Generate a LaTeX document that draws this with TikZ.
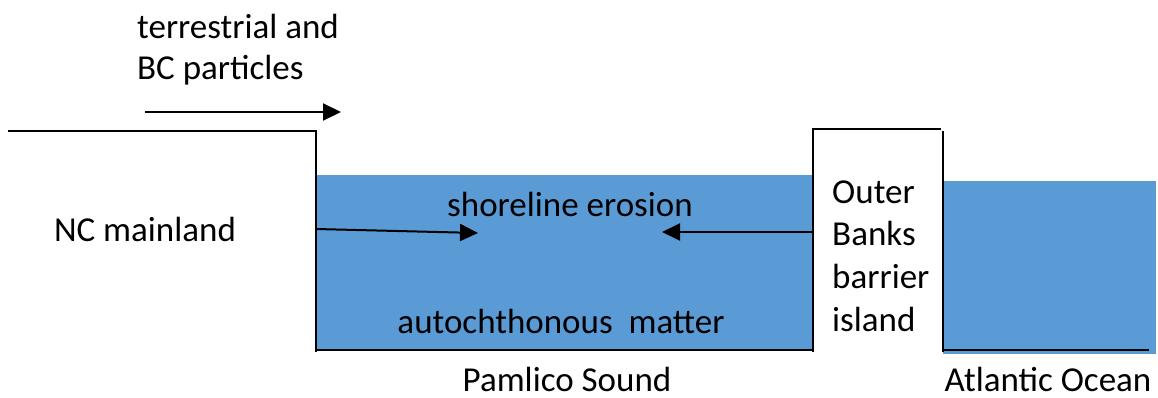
\documentclass[tikz,border=0pt]{standalone}
\usepackage{fontspec}
\setmainfont{Carlito}
\usetikzlibrary{arrows.meta}
\definecolor{water}{HTML}{5B9BD5}
\begin{document}
\begin{tikzpicture}[x=1pt,y=-1pt,
  outline/.style={draw=black,line width=2pt},
  arr/.style={draw=black,line width=2pt,-{Triangle[length=18pt,width=17pt]}},
  lbl/.style={inner sep=0pt,font=\fontsize{35}{45}\selectfont},
  bottomlbl/.style={lbl,anchor=base,text depth=0pt}]
\useasboundingbox (0,0) rectangle (1158,398);
% water
\fill[water] (316,175) rectangle (812,350);
\fill[water] (943,181) rectangle (1156,354);
% land outlines
\draw[outline] (8,131) -- (316,131) -- (316,352);
\draw[outline] (316,350) -- (812,350);
\draw[outline] (813,352) -- (813,129) -- (941,129);
\draw[outline] (943,131) -- (943,352);
\draw[outline] (943,350) -- (1149,350);
% coordinates for arrows
\coordinate (a1s) at (145,112);
\coordinate (a1e) at (341,112);
\coordinate (a2s) at (316,229);
\coordinate (a2e) at (478,233);
\coordinate (a3s) at (812,232);
\coordinate (a3e) at (662,232);
\draw[arr] (a1s) -- (a1e);
\draw[arr] (a2s) -- (a2e);
\draw[arr] (a3s) -- (a3e);
% labels
\node[lbl,anchor=west] (t1) at (137,26) {terrestrial and};
\node[lbl,anchor=west] (t2) at (137,70) {BC particles};
\node[lbl] (nc) at (145,229) {NC mainland};
\node[lbl] (se) at (570,204) {shoreline erosion};
\node[lbl] (am) at (561,321) {autochthonous\ \ matter};
\node[lbl,anchor=west] (o1) at (832,192) {Outer};
\node[lbl,anchor=west] (o2) at (832,233) {Banks};
\node[lbl,anchor=west] (o3) at (832,276) {barrier};
\node[lbl,anchor=west] (o4) at (832,319) {island};
\node[bottomlbl] (ps) at (567,391) {Pamlico Sound};
\node[bottomlbl] (ao) at (1048,391) {Atlantic Ocean};
\end{tikzpicture}
\end{document}
